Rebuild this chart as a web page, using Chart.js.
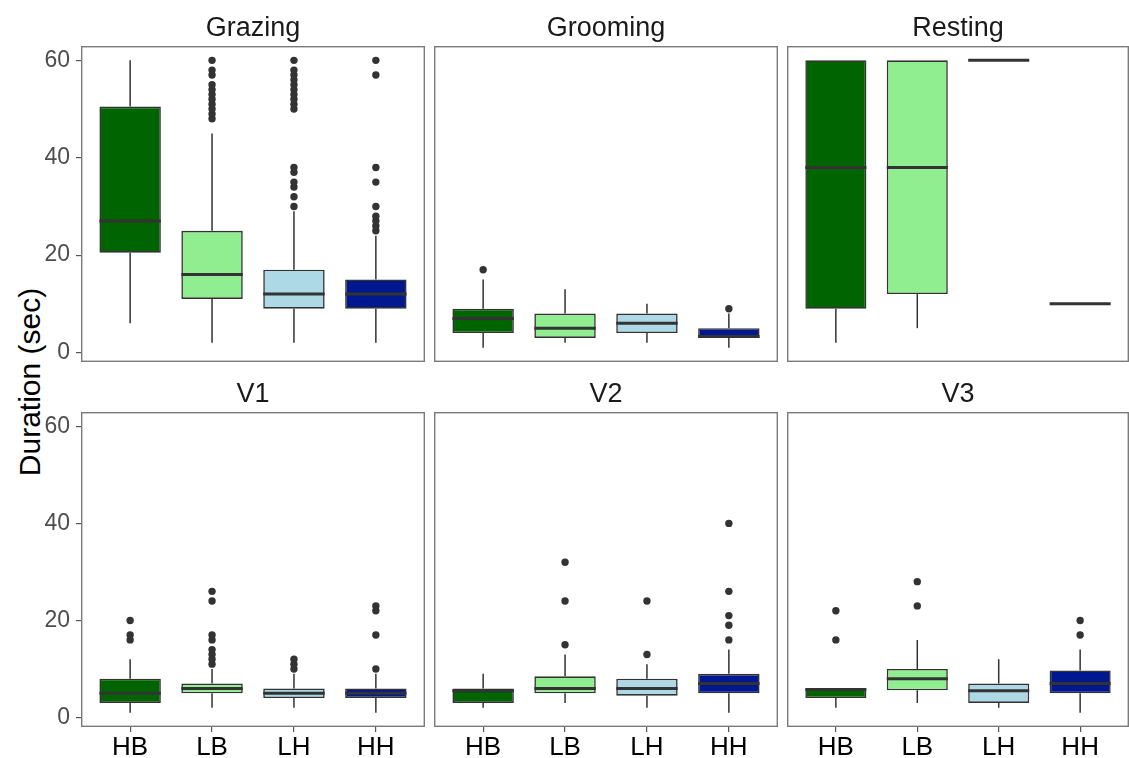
<!DOCTYPE html>
<html>
<head>
<meta charset="utf-8">
<script src="https://cdn.jsdelivr.net/npm/chart.js@4.4.0/dist/chart.umd.min.js"></script>
<style>
  body { margin: 0; background: #fff; width: 1129px; height: 758px; position: relative; overflow: hidden;
         font-family: "Liberation Sans", Arial, sans-serif; }
  canvas { position: absolute; }
  #ytitle { position: absolute; left: 30px; top: 382px; transform: translate(-50%, -50%) rotate(-90deg);
            font-size: 30px; white-space: nowrap; color: #000; }
</style>
</head>
<body>
<div id="ytitle">Duration (sec)</div>
<script>
// groups on the x axis, one facet per behaviour
const groups = ['HB', 'LB', 'LH', 'HH'];
const behaviours = ['Grazing', 'Grooming', 'Resting', 'V1', 'V2', 'V3'];
const yTicks = [0, 20, 40, 60];

// box stats, one row per behaviour, one value per group
const whiskerLow  = [[6, 2, 2, 2], [1, 2, 2, 1], [2, 5, 60, 10], [1, 2, 2, 1], [2, 3, 2, 1], [2, 3, 2, 1]];
const q1          = [[20.5, 11, 9, 9], [4, 3, 4, 3], [9, 12, 60, 10], [3, 5, 4, 4], [3, 5, 4.5, 5], [4, 5.6, 3, 5]];
const medians     = [[27, 16, 12, 12], [7, 5, 6, 3.3], [38, 38, 60, 10], [5, 6, 5, 5], [5.5, 6, 6, 7], [5.8, 8, 5.5, 7]];
const q3          = [[50.5, 25, 17, 15], [9, 8, 8, 5], [60, 60, 60, 10], [8, 7, 6, 6], [6, 8.5, 8, 9], [6, 10, 7, 9.7]];
const whiskerHigh = [[60, 45, 29, 24], [15, 13, 10, 8], [60, 60, 60, 10], [12, 10, 9, 9], [9, 13, 11, 14], [6, 16, 12, 14]];
const outliers = [
  [[], [48, 49, 50, 51, 52, 53, 54, 55, 57, 58, 60],
       [30, 32, 34, 35, 37, 38, 50, 51, 52, 53, 54, 55, 56, 57, 58, 60],
       [25, 26, 27, 28, 30, 35, 38, 57, 60]],
  [[17], [], [], [9]],
  [[], [], [], []],
  [[16, 17, 20], [11, 12, 13, 14, 16, 17, 24, 26], [10, 11, 12], [10, 17, 22, 23]],
  [[], [15, 24, 32], [13, 24], [16, 19, 21, 26, 40]],
  [[16, 22], [23, 28], [], [17, 20]]
];

const fills = ['#006400', '#90EE90', '#ADD8E6', '#00188F'];

Chart.defaults.font.family = '"Liberation Sans", Arial, sans-serif';

const cols = [
  { left: 0, width: 425, yAxis: true },
  { left: 434, width: 344, yAxis: false },
  { left: 787, width: 342, yAxis: false }
];
const rows = [
  { top: 0, height: 362, xAxis: false, titlePad: { top: 12, bottom: 1.6 } },
  { top: 366, height: 392, xAxis: true, titlePad: { top: 12.4, bottom: 1.2 } }
];

// whiskers under the boxes, medians on top, panel frame last
function boxPlugin(p) {
  return {
    id: 'boxStats' + p,
    beforeDatasetsDraw(chart) {
      const ctx = chart.ctx;
      const x = chart.scales.x, y = chart.scales.y;
      ctx.save();
      ctx.strokeStyle = '#333';
      ctx.lineWidth = 1.5;
      groups.forEach((g, i) => {
        const px = x.getPixelForValue(i + 1);
        ctx.beginPath();
        if (whiskerHigh[p][i] > q3[p][i]) {
          ctx.moveTo(px, y.getPixelForValue(q3[p][i]));
          ctx.lineTo(px, y.getPixelForValue(whiskerHigh[p][i]));
        }
        if (whiskerLow[p][i] < q1[p][i]) {
          ctx.moveTo(px, y.getPixelForValue(q1[p][i]));
          ctx.lineTo(px, y.getPixelForValue(whiskerLow[p][i]));
        }
        ctx.stroke();
      });
      ctx.restore();
    },
    afterDatasetsDraw(chart) {
      const ctx = chart.ctx;
      const y = chart.scales.y;
      const bars = chart.getDatasetMeta(0).data;
      ctx.save();
      ctx.strokeStyle = '#333';
      ctx.lineWidth = 3;
      groups.forEach((g, i) => {
        const el = bars[i];
        if (!el) return;
        const py = y.getPixelForValue(medians[p][i]);
        ctx.beginPath();
        ctx.moveTo(el.x - el.width / 2, py);
        ctx.lineTo(el.x + el.width / 2, py);
        ctx.stroke();
      });
      ctx.restore();
    },
    afterDraw(chart) {
      const a = chart.chartArea;
      const ctx = chart.ctx;
      ctx.save();
      ctx.strokeStyle = '#7a7a7a';
      ctx.lineWidth = 1.4;
      ctx.strokeRect(a.left + 0.7, a.top + 0.7, a.right - a.left - 1.4, a.bottom - a.top - 1.4);
      ctx.restore();
    }
  };
}

function noEdgePadding(s) {
  s.paddingTop = 0;
  s.paddingBottom = 0;
  s.paddingLeft = 0;
  s.paddingRight = 0;
}

behaviours.forEach((name, p) => {
  const col = cols[p % 3], row = rows[Math.floor(p / 3)];
  const canvas = document.createElement('canvas');
  canvas.width = col.width;
  canvas.height = row.height;
  canvas.style.left = col.left + 'px';
  canvas.style.top = row.top + 'px';
  canvas.style.width = col.width + 'px';
  canvas.style.height = row.height + 'px';
  document.body.appendChild(canvas);

  const boxData = groups.map((g, i) => ({ x: i + 1, y: [q1[p][i], q3[p][i]] }));
  const pointData = [];
  groups.forEach((g, i) => outliers[p][i].forEach(v => pointData.push({ x: i + 1, y: v })));

  new Chart(canvas, {
    type: 'bar',
    data: {
      datasets: [
        {
          type: 'bar',
          data: boxData,
          backgroundColor: fills,
          borderColor: '#333',
          borderWidth: 1.6,
          borderSkipped: false,
          barPercentage: 0.75,
          categoryPercentage: 1
        },
        {
          type: 'scatter',
          data: pointData,
          pointRadius: 3.7,
          pointBackgroundColor: '#333',
          pointBorderWidth: 0
        }
      ]
    },
    options: {
      responsive: false,
      devicePixelRatio: 1,
      animation: false,
      layout: { padding: 0, autoPadding: false },
      plugins: {
        legend: { display: false },
        tooltip: { enabled: false },
        title: {
          display: true,
          text: name,
          fullSize: false,
          color: '#1a1a1a',
          font: { size: 27, weight: 'normal' },
          padding: row.titlePad
        }
      },
      scales: {
        x: {
          type: 'linear',
          display: row.xAxis,
          offset: false,
          min: 0.4,
          max: 4.6,
          afterBuildTicks: s => { s.ticks = groups.map((g, i) => ({ value: i + 1 })); },
          afterFit: s => { noEdgePadding(s); if (row.xAxis) s.height = 31; },
          grid: { offset: false, drawOnChartArea: false, drawTicks: true, tickLength: 5, color: '#555', lineWidth: 1.2 },
          border: { display: false },
          ticks: {
            padding: 0,
            color: '#000',
            font: { size: 26 },
            maxRotation: 0,
            callback: v => groups[v - 1]
          }
        },
        y: {
          display: col.yAxis,
          min: -1.95,
          max: 62.95,
          afterBuildTicks: s => { s.ticks = yTicks.map(v => ({ value: v })); },
          afterFit: s => { noEdgePadding(s); if (col.yAxis) s.width = 81; },
          grid: { drawOnChartArea: false, drawTicks: true, tickLength: 5, color: '#555', lineWidth: 1.2 },
          border: { display: false },
          ticks: { padding: 6, color: '#4d4d4d', font: { size: 23 } }
        }
      }
    },
    plugins: [boxPlugin(p)]
  });
});
</script>
</body>
</html>
